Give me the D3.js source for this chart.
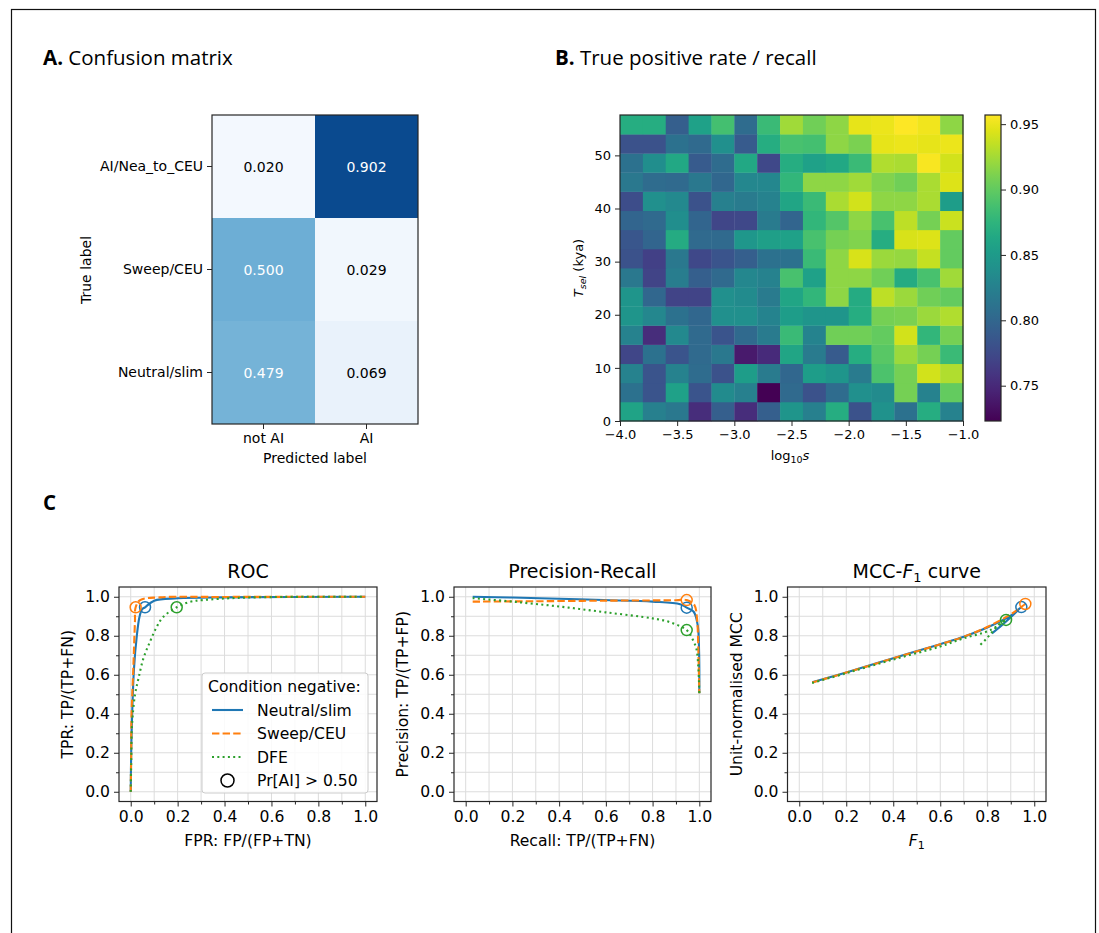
<!DOCTYPE html>
<html>
<head>
<meta charset="utf-8">
<script src="https://cdn.jsdelivr.net/npm/d3@7"></script>
<style>
  body { margin: 0; background: #fff; }
  svg { display: block; }
  text { font-family: "DejaVu Sans", sans-serif; fill: #000; }
  .ptitle { font-family: "Open Sans", sans-serif; font-size: 20.5px; }
</style>
</head>
<body>
<svg id="fig" width="1099" height="933"></svg>
<script>
// ---------- Panel A: confusion matrix ----------
const cmTrueLabels = ["AI/Nea_to_CEU", "Sweep/CEU", "Neutral/slim"];
const cmPredLabels = ["not AI", "AI"];
const cmPredNotAI = [0.020, 0.500, 0.479];
const cmPredAI = [0.902, 0.029, 0.069];

// ---------- Panel B: recall over log10(s) x T_sel grid ----------
const logSBinStarts = [-4.0, -3.8, -3.6, -3.4, -3.2, -3.0, -2.8, -2.6, -2.4, -2.2, -2.0, -1.8, -1.6, -1.4, -1.2];
const logSBinWidth = 0.2;
const tselBinStarts = [0, 3.6, 7.2, 10.8, 14.4, 18.0, 21.6, 25.2, 28.8, 32.4, 36.0, 39.6, 43.2, 46.8, 50.4, 54.0];
const tselBinWidth = 3.6;
// one row per T_sel bin, lowest first; one value per log10(s) bin
const recallByTsel = [
  [0.859,0.824,0.817,0.753,0.793,0.753,0.793,0.845,0.824,0.868,0.782,0.842,0.810,0.868,0.826],
  [0.810,0.784,0.856,0.784,0.835,0.824,0.723,0.803,0.782,0.805,0.840,0.835,0.908,0.826,0.901],
  [0.826,0.784,0.826,0.805,0.782,0.852,0.819,0.800,0.852,0.845,0.819,0.891,0.908,0.941,0.929],
  [0.772,0.810,0.784,0.803,0.817,0.739,0.751,0.861,0.819,0.789,0.868,0.896,0.922,0.908,0.882],
  [0.826,0.753,0.833,0.803,0.784,0.803,0.819,0.882,0.828,0.906,0.906,0.901,0.941,0.877,0.908],
  [0.845,0.831,0.810,0.800,0.840,0.840,0.828,0.852,0.845,0.845,0.868,0.908,0.910,0.922,0.929],
  [0.845,0.800,0.770,0.770,0.840,0.835,0.819,0.861,0.877,0.917,0.866,0.934,0.922,0.906,0.901],
  [0.817,0.770,0.821,0.793,0.803,0.831,0.826,0.889,0.856,0.917,0.917,0.906,0.866,0.889,0.924],
  [0.782,0.767,0.817,0.774,0.784,0.793,0.810,0.810,0.882,0.917,0.943,0.922,0.920,0.936,0.901],
  [0.786,0.798,0.866,0.803,0.803,0.847,0.854,0.856,0.889,0.908,0.913,0.868,0.943,0.945,0.901],
  [0.798,0.803,0.838,0.798,0.772,0.774,0.819,0.798,0.877,0.894,0.917,0.889,0.934,0.908,0.938],
  [0.777,0.840,0.833,0.782,0.824,0.819,0.826,0.861,0.882,0.927,0.941,0.917,0.917,0.927,0.852],
  [0.817,0.805,0.803,0.817,0.800,0.831,0.831,0.877,0.917,0.917,0.924,0.913,0.906,0.927,0.945],
  [0.810,0.838,0.863,0.789,0.805,0.863,0.774,0.868,0.856,0.863,0.882,0.929,0.927,0.955,0.941],
  [0.782,0.782,0.810,0.803,0.840,0.789,0.868,0.889,0.887,0.917,0.910,0.948,0.950,0.948,0.950],
  [0.868,0.868,0.793,0.856,0.887,0.805,0.882,0.924,0.906,0.917,0.948,0.950,0.957,0.952,0.917]
];
const logSTicks = [-4.0, -3.5, -3.0, -2.5, -2.0, -1.5, -1.0];
const tselTicks = [0, 10, 20, 30, 40, 50];
const colorbarTicks = [0.75, 0.80, 0.85, 0.90, 0.95];

// ---------- Panel C: ROC, precision-recall, MCC-F1 ----------
const seriesNames = ["Neutral/slim", "Sweep/CEU", "DFE"];
const seriesColors = ["#1f77b4", "#ff7f0e", "#2ca02c"];

const rocNeutralFPR = [0, 0.002, 0.0055, 0.014, 0.026, 0.037, 0.048, 0.061, 0.1, 0.2, 0.4, 1.0];
const rocNeutralTPR = [0, 0.2, 0.376, 0.633, 0.80, 0.895, 0.935, 0.946, 0.98, 0.992, 0.997, 1.0];
const rocSweepFPR = [0, 0.002, 0.003, 0.011, 0.018, 0.021, 0.04, 0.125, 0.4, 1.0];
const rocSweepTPR = [0, 0.2, 0.376, 0.633, 0.872, 0.946, 0.983, 0.997, 0.999, 1.0];
const rocDfeFPR = [0, 0.002, 0.0055, 0.018, 0.033, 0.054, 0.082, 0.111, 0.139, 0.196, 0.253, 0.31, 0.45, 0.65, 1.0];
const rocDfeTPR = [0, 0.15, 0.342, 0.496, 0.581, 0.684, 0.769, 0.846, 0.897, 0.946, 0.974, 0.983, 0.994, 0.999, 1.0];

const prNeutralRecall = [0.03, 0.2, 0.4, 0.59, 0.8, 0.918, 0.946, 0.976, 0.993, 0.999, 1.0];
const prNeutralPrecision = [1.0, 0.996, 0.99, 0.983, 0.975, 0.962, 0.944, 0.923, 0.855, 0.718, 0.505];
const prSweepRecall = [0.03, 0.3, 0.6, 0.9, 0.946, 0.979, 0.99, 0.996, 1.0];
const prSweepPrecision = [0.975, 0.977, 0.98, 0.982, 0.983, 0.957, 0.889, 0.718, 0.505];
const prDfeRecall = [0.03, 0.2, 0.4, 0.6, 0.8, 0.876, 0.946, 0.969, 0.987, 0.996, 1.0];
const prDfePrecision = [0.993, 0.975, 0.95, 0.92, 0.889, 0.869, 0.829, 0.787, 0.735, 0.633, 0.505];

const mccNeutralF1 = [0.055, 0.2, 0.4, 0.6, 0.7, 0.8, 0.9, 0.945, 0.90, 0.86, 0.82];
const mccNeutralMCC = [0.561, 0.612, 0.685, 0.757, 0.795, 0.842, 0.903, 0.947, 0.895, 0.852, 0.812];
const mccSweepF1 = [0.055, 0.2, 0.4, 0.6, 0.7, 0.8, 0.9, 0.962, 0.945];
const mccSweepMCC = [0.56, 0.611, 0.684, 0.756, 0.795, 0.845, 0.91, 0.963, 0.95];
const mccDfeF1 = [0.055, 0.2, 0.4, 0.6, 0.7, 0.813, 0.88, 0.855, 0.798, 0.763];
const mccDfeMCC = [0.558, 0.608, 0.678, 0.745, 0.787, 0.829, 0.881, 0.864, 0.787, 0.744];

// operating point at Pr[AI] > 0.50, per series
const opROC = [[0.061, 0.946], [0.021, 0.946], [0.196, 0.946]];
const opPR = [[0.946, 0.944], [0.946, 0.983], [0.946, 0.829]];
const opMCC = [[0.945, 0.947], [0.962, 0.963], [0.88, 0.881]];

const unitTicks = [0, 0.2, 0.4, 0.6, 0.8, 1.0];
const unitMinorTicks = [0.1, 0.3, 0.5, 0.7, 0.9];
const unitGrid = [0, 0.1, 0.2, 0.3, 0.4, 0.5, 0.6, 0.7, 0.8, 0.9, 1.0];

// ================= drawing =================
const svg = d3.select("#fig");
const AX = "#262626";
const FS_AB = 14;     // panel A/B label size
const FS_HM = 13;     // heatmap tick size
const FS_C = 15.6;    // panel C tick/label/legend size
const FS_CT = 19;     // panel C subplot titles

// outer figure frame
svg.append("rect").attr("x", 11.5).attr("y", 9.5).attr("width", 1084).attr("height", 960)
  .attr("fill", "none").attr("stroke", "#111").attr("stroke-width", 1.2);

function panelTitle(x, y, letter, rest) {
  const t = svg.append("text").attr("class", "ptitle").attr("x", x).attr("y", y);
  t.append("tspan").attr("font-weight", "bold").text(letter);
  if (rest) t.append("tspan").text(rest);
}
panelTitle(43, 65, "A.", " Confusion matrix");
panelTitle(555, 65, "B.", " True positive rate / recall");
panelTitle(43, 510, "C", null);

function styleAxis(g, fs) {
  g.select(".domain").remove();
  g.selectAll(".tick line").attr("stroke", AX).attr("stroke-width", 1);
  g.selectAll(".tick text").attr("font-size", fs).attr("fill", "#000")
    .attr("font-family", "DejaVu Sans, sans-serif");
}

// ---------- Panel A ----------
{
  const x = d3.scaleBand().domain(cmPredLabels).range([212, 418]);
  const y = d3.scaleBand().domain(cmTrueLabels).range([115, 424]);
  const cells = [];
  cmTrueLabels.forEach((t, i) => {
    cells.push({ t, p: cmPredLabels[0], v: cmPredNotAI[i] });
    cells.push({ t, p: cmPredLabels[1], v: cmPredAI[i] });
  });
  const g = svg.append("g");
  g.selectAll("rect.cell").data(cells).join("rect").attr("class", "cell")
    .attr("x", d => x(d.p)).attr("y", d => y(d.t))
    .attr("width", x.bandwidth()).attr("height", y.bandwidth())
    .attr("fill", d => d3.interpolateBlues(d.v));
  const vmax = d3.max(cells, d => d.v);
  g.selectAll("text.val").data(cells).join("text").attr("class", "val")
    .attr("x", d => x(d.p) + x.bandwidth() / 2).attr("y", d => y(d.t) + y.bandwidth() / 2)
    .attr("text-anchor", "middle").attr("dominant-baseline", "central")
    .attr("font-size", FS_AB).style("fill", d => d.v > vmax / 2 ? "#fff" : "#000")
    .text(d => d3.format(".3f")(d.v));
  g.append("rect").attr("x", 212).attr("y", 115).attr("width", 206).attr("height", 309)
    .attr("fill", "none").attr("stroke", AX).attr("stroke-width", 1.2);
  const xa = svg.append("g").attr("transform", "translate(0,424)")
    .call(d3.axisBottom(x).tickSize(5).tickPadding(4));
  styleAxis(xa, FS_AB);
  const ya = svg.append("g").attr("transform", "translate(212,0)")
    .call(d3.axisLeft(y).tickSize(5).tickPadding(4));
  styleAxis(ya, FS_AB);
  svg.append("text").attr("x", 315).attr("y", 463).attr("text-anchor", "middle")
    .attr("font-size", FS_AB).text("Predicted label");
  svg.append("text").attr("transform", "translate(91,270) rotate(-90)")
    .attr("text-anchor", "middle").attr("font-size", FS_AB).text("True label");
}

// ---------- Panel B ----------
{
  const x = d3.scaleLinear().domain([-4, -1]).range([620, 963]);
  const tTop = tselBinStarts[tselBinStarts.length - 1] + tselBinWidth;
  const y = d3.scaleLinear().domain([0, tTop]).range([421, 115]);
  const allVals = recallByTsel.flat();
  const [vmin, vmax] = d3.extent(allVals);
  const color = d3.scaleSequential(d3.interpolateViridis).domain([vmin, vmax]);
  const cells = [];
  recallByTsel.forEach((row, i) => row.forEach((v, j) => cells.push({
    s: logSBinStarts[j], t: tselBinStarts[i], v
  })));
  svg.append("g").selectAll("rect").data(cells).join("rect")
    .attr("x", d => x(d.s)).attr("y", d => y(d.t + tselBinWidth))
    .attr("width", d => x(d.s + logSBinWidth) - x(d.s) + 0.4)
    .attr("height", d => y(d.t) - y(d.t + tselBinWidth) + 0.4)
    .attr("fill", d => color(d.v));
  svg.append("rect").attr("x", 620).attr("y", 115).attr("width", 343).attr("height", 306)
    .attr("fill", "none").attr("stroke", AX).attr("stroke-width", 1.2);
  const xa = svg.append("g").attr("transform", "translate(0,421)")
    .call(d3.axisBottom(x).tickValues(logSTicks).tickSize(5).tickPadding(4)
      .tickFormat(d => d3.format(".1f")(d).replace("-", "\u2212")));
  styleAxis(xa, FS_HM);
  const ya = svg.append("g").attr("transform", "translate(620,0)")
    .call(d3.axisLeft(y).tickValues(tselTicks).tickSize(5).tickPadding(4));
  styleAxis(ya, FS_HM);

  const xl = svg.append("text").attr("x", 790).attr("y", 460).attr("text-anchor", "middle").attr("font-size", FS_HM);
  xl.append("tspan").text("log");
  xl.append("tspan").attr("font-size", 9.5).attr("dy", 3).text("10");
  xl.append("tspan").attr("font-style", "italic").attr("dy", -3).text("s");

  const yl = svg.append("text").attr("transform", "translate(583,268) rotate(-90)")
    .attr("text-anchor", "middle").attr("font-size", FS_HM);
  yl.append("tspan").attr("font-style", "italic").text("T");
  yl.append("tspan").attr("font-style", "italic").attr("font-size", 9.5).attr("dy", 3).text("sel");
  yl.append("tspan").attr("dy", -3).text(" (kya)");

  // colour bar
  const cbX = 985, cbW = 16;
  const cy = d3.scaleLinear().domain([vmin, vmax]).range([421, 115]);
  const defs = svg.append("defs");
  const grad = defs.append("linearGradient").attr("id", "vir").attr("x1", 0).attr("y1", 1).attr("x2", 0).attr("y2", 0);
  d3.range(0, 1.0001, 0.05).forEach(f => grad.append("stop").attr("offset", f).attr("stop-color", d3.interpolateViridis(f)));
  svg.append("rect").attr("x", cbX).attr("y", 115).attr("width", cbW).attr("height", 306).attr("fill", "url(#vir)");
  svg.append("rect").attr("x", cbX).attr("y", 115).attr("width", cbW).attr("height", 306)
    .attr("fill", "none").attr("stroke", AX).attr("stroke-width", 1.2);
  const ca = svg.append("g").attr("transform", `translate(${cbX + cbW},0)`)
    .call(d3.axisRight(cy).tickValues(colorbarTicks).tickSize(5).tickPadding(4).tickFormat(d3.format(".2f")));
  styleAxis(ca, FS_HM);
}

// ---------- Panel C ----------
const dashes = [null, "7.4,3.2", "2,3.3"];
function curvePanel(x0, x1, title, xlabel, ylabel, series, ops, legend) {
  const top = 587, bot = 801.5;
  const x = d3.scaleLinear().domain([-0.05, 1.05]).range([x0, x1]);
  const y = d3.scaleLinear().domain([-0.05, 1.05]).range([bot, top]);
  const g = svg.append("g");
  // grid
  g.selectAll("line.gx").data(unitGrid).join("line")
    .attr("x1", d => x(d)).attr("x2", d => x(d)).attr("y1", top).attr("y2", bot)
    .attr("stroke", "#dcdcdc").attr("stroke-width", 1);
  g.selectAll("line.gy").data(unitGrid).join("line")
    .attr("y1", d => y(d)).attr("y2", d => y(d)).attr("x1", x0).attr("x2", x1)
    .attr("stroke", "#dcdcdc").attr("stroke-width", 1);
  // curves
  const line = d3.line().x(d => x(d[0])).y(d => y(d[1])).curve(d3.curveCatmullRom.alpha(0.5));
  series.forEach((s, i) => {
    const pts = s[0].map((v, k) => [v, s[1][k]]);
    g.append("path").attr("d", line(pts)).attr("fill", "none")
      .attr("stroke", seriesColors[i]).attr("stroke-width", 2.1)
      .attr("stroke-dasharray", dashes[i]);
  });
  ops.forEach((p, i) => {
    g.append("circle").attr("cx", x(p[0])).attr("cy", y(p[1])).attr("r", 5.5)
      .attr("fill", "none").attr("stroke", seriesColors[i]).attr("stroke-width", 1.5);
  });
  g.append("rect").attr("x", x0).attr("y", top).attr("width", x1 - x0).attr("height", bot - top)
    .attr("fill", "none").attr("stroke", AX).attr("stroke-width", 1.2);
  const fmt = d3.format(".1f");
  const xa = svg.append("g").attr("transform", `translate(0,${bot})`)
    .call(d3.axisBottom(x).tickValues(unitTicks).tickFormat(fmt).tickSize(5).tickPadding(4));
  styleAxis(xa, FS_C);
  const xm = svg.append("g").attr("transform", `translate(0,${bot})`)
    .call(d3.axisBottom(x).tickValues(unitMinorTicks).tickFormat("").tickSize(3));
  styleAxis(xm, FS_C);
  const ya = svg.append("g").attr("transform", `translate(${x0},0)`)
    .call(d3.axisLeft(y).tickValues(unitTicks).tickFormat(fmt).tickSize(5).tickPadding(4));
  styleAxis(ya, FS_C);
  const ym = svg.append("g").attr("transform", `translate(${x0},0)`)
    .call(d3.axisLeft(y).tickValues(unitMinorTicks).tickFormat("").tickSize(3));
  styleAxis(ym, FS_C);
  // title
  const cx = (x0 + x1) / 2;
  const tt = svg.append("text").attr("x", cx).attr("y", 578).attr("text-anchor", "middle").attr("font-size", FS_CT);
  title(tt);
  const xl = svg.append("text").attr("x", cx).attr("y", 846).attr("text-anchor", "middle").attr("font-size", FS_C);
  xlabel(xl);
  svg.append("text").attr("transform", `translate(${x0 - 46},${(top + bot) / 2}) rotate(-90)`)
    .attr("text-anchor", "middle").attr("font-size", FS_C).text(ylabel);
  if (legend) legend(x, y);
}

function rocLegend() {
  const lx = 202, ly = 673, lw = 166, lh = 120;
  const g = svg.append("g");
  g.append("rect").attr("x", lx).attr("y", ly).attr("width", lw).attr("height", lh).attr("rx", 3)
    .attr("fill", "#fff").attr("fill-opacity", 0.85).attr("stroke", "#cccccc");
  g.append("text").attr("x", lx + 6).attr("y", ly + 19).attr("font-size", FS_C).text("Condition negative:");
  seriesNames.forEach((n, i) => {
    const yy = ly + 37 + i * 23.5;
    g.append("line").attr("x1", lx + 10).attr("x2", lx + 41).attr("y1", yy).attr("y2", yy)
      .attr("stroke", seriesColors[i]).attr("stroke-width", 2.1).attr("stroke-dasharray", dashes[i]);
    g.append("text").attr("x", lx + 55).attr("y", yy + 5.5).attr("font-size", FS_C).text(n);
  });
  const yy = ly + 37 + 3 * 23.5;
  g.append("circle").attr("cx", lx + 25.5).attr("cy", yy).attr("r", 6.5)
    .attr("fill", "none").attr("stroke", "#000").attr("stroke-width", 1.5);
  g.append("text").attr("x", lx + 55).attr("y", yy + 5.5).attr("font-size", FS_C).text("Pr[AI] > 0.50");
}

curvePanel(119, 377,
  t => t.text("ROC"),
  t => t.text("FPR: FP/(FP+TN)"),
  "TPR: TP/(TP+FN)",
  [[rocNeutralFPR, rocNeutralTPR], [rocSweepFPR, rocSweepTPR], [rocDfeFPR, rocDfeTPR]],
  opROC, rocLegend);

curvePanel(454, 711,
  t => t.text("Precision-Recall"),
  t => t.text("Recall: TP/(TP+FN)"),
  "Precision: TP/(TP+FP)",
  [[prNeutralRecall, prNeutralPrecision], [prSweepRecall, prSweepPrecision], [prDfeRecall, prDfePrecision]],
  opPR, null);

curvePanel(787.5, 1046,
  t => {
    t.append("tspan").text("MCC-");
    t.append("tspan").attr("font-style", "italic").text("F");
    t.append("tspan").attr("font-size", 13).attr("dy", 4).text("1");
    t.append("tspan").attr("dy", -4).text(" curve");
  },
  t => {
    t.append("tspan").attr("font-style", "italic").text("F");
    t.append("tspan").attr("font-size", 11).attr("dy", 3).text("1");
  },
  "Unit-normalised MCC",
  [[mccNeutralF1, mccNeutralMCC], [mccSweepF1, mccSweepMCC], [mccDfeF1, mccDfeMCC]],
  opMCC, null);
</script>
</body>
</html>
